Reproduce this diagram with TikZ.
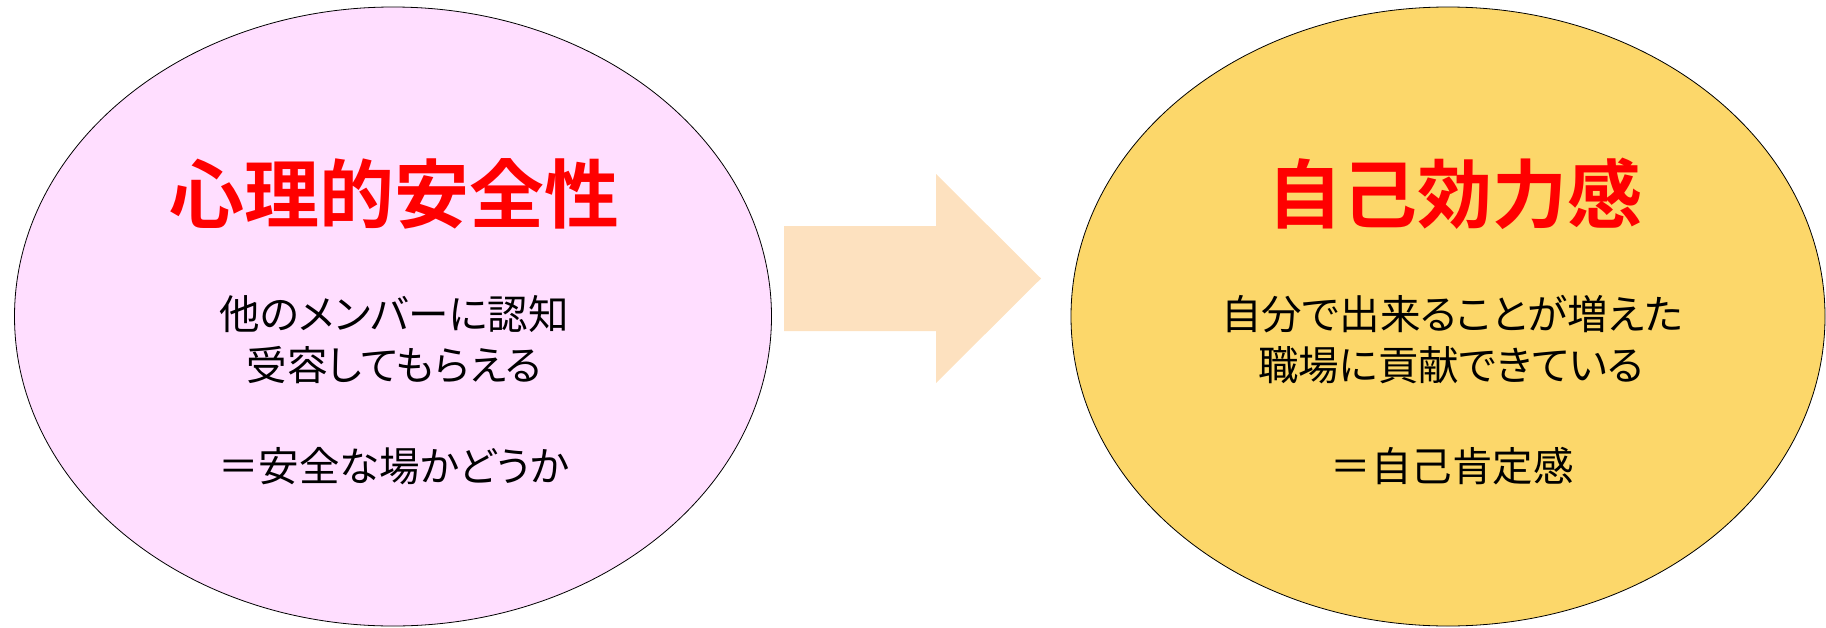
\documentclass[tikz,border=0pt]{standalone}
\usepackage{fontspec}
\usetikzlibrary{shapes.geometric}
\newfontfamily\jpfont[RawFeature=+palt]{Noto Sans CJK JP}
\newfontfamily\jpbold[RawFeature=+palt]{Noto Sans CJK JP Bold}
\definecolor{pinkfill}{HTML}{FFDEFF}
\definecolor{goldfill}{HTML}{FCD76A}
\definecolor{peach}{HTML}{FDE1BF}
\definecolor{titlered}{HTML}{FF0000}
\begin{document}
\begin{tikzpicture}[x=1pt,y=-1pt,
  bubble/.style={ellipse,draw=black,line width=0.8pt,inner sep=0pt},
  headline/.style={anchor=base,inner sep=0pt,text=titlered,font=\jpbold\fontsize{75}{82}\selectfont},
  bodyline/.style={anchor=base,inner sep=0pt,text=black,font=\jpfont\fontsize{40.5}{46}\selectfont}]
\useasboundingbox (0,0) rectangle (1826,627);

% two circles of the concept
\node[bubble,fill=pinkfill,minimum width=757pt,minimum height=619pt] (safety) at (393,316.5) {};
\node[bubble,fill=goldfill,minimum width=754pt,minimum height=619pt] (efficacy) at (1448,316.5) {};

% block arrow between the circles
\coordinate (a1) at (784,226);
\coordinate (a2) at (936,226);
\coordinate (a3) at (936,174);
\coordinate (a4) at (1041,278.5);
\coordinate (a5) at (936,383);
\coordinate (a6) at (936,331);
\coordinate (a7) at (784,331);
\fill[peach] (a1) -- (a2) -- (a3) -- (a4) -- (a5) -- (a6) -- (a7) -- cycle;

% left circle texts
\node[headline] (t1) at (394,222) {心理的安全性};
\node[bodyline] (l1a) at (394,329) {他のメンバーに認知};
\node[bodyline] (l1b) at (394,380) {受容してもらえる};
\node[bodyline] (l1c) at (394,481) {＝安全な場かどうか};

% right circle texts
\node[headline] (t2) at (1455,222) {自己効力感};
\node[bodyline] (l2a) at (1452,329) {自分で出来ることが増えた};
\node[bodyline] (l2b) at (1451,380) {職場に貢献できている};
\node[bodyline] (l2c) at (1452,481) {＝自己肯定感};
\end{tikzpicture}
\end{document}
